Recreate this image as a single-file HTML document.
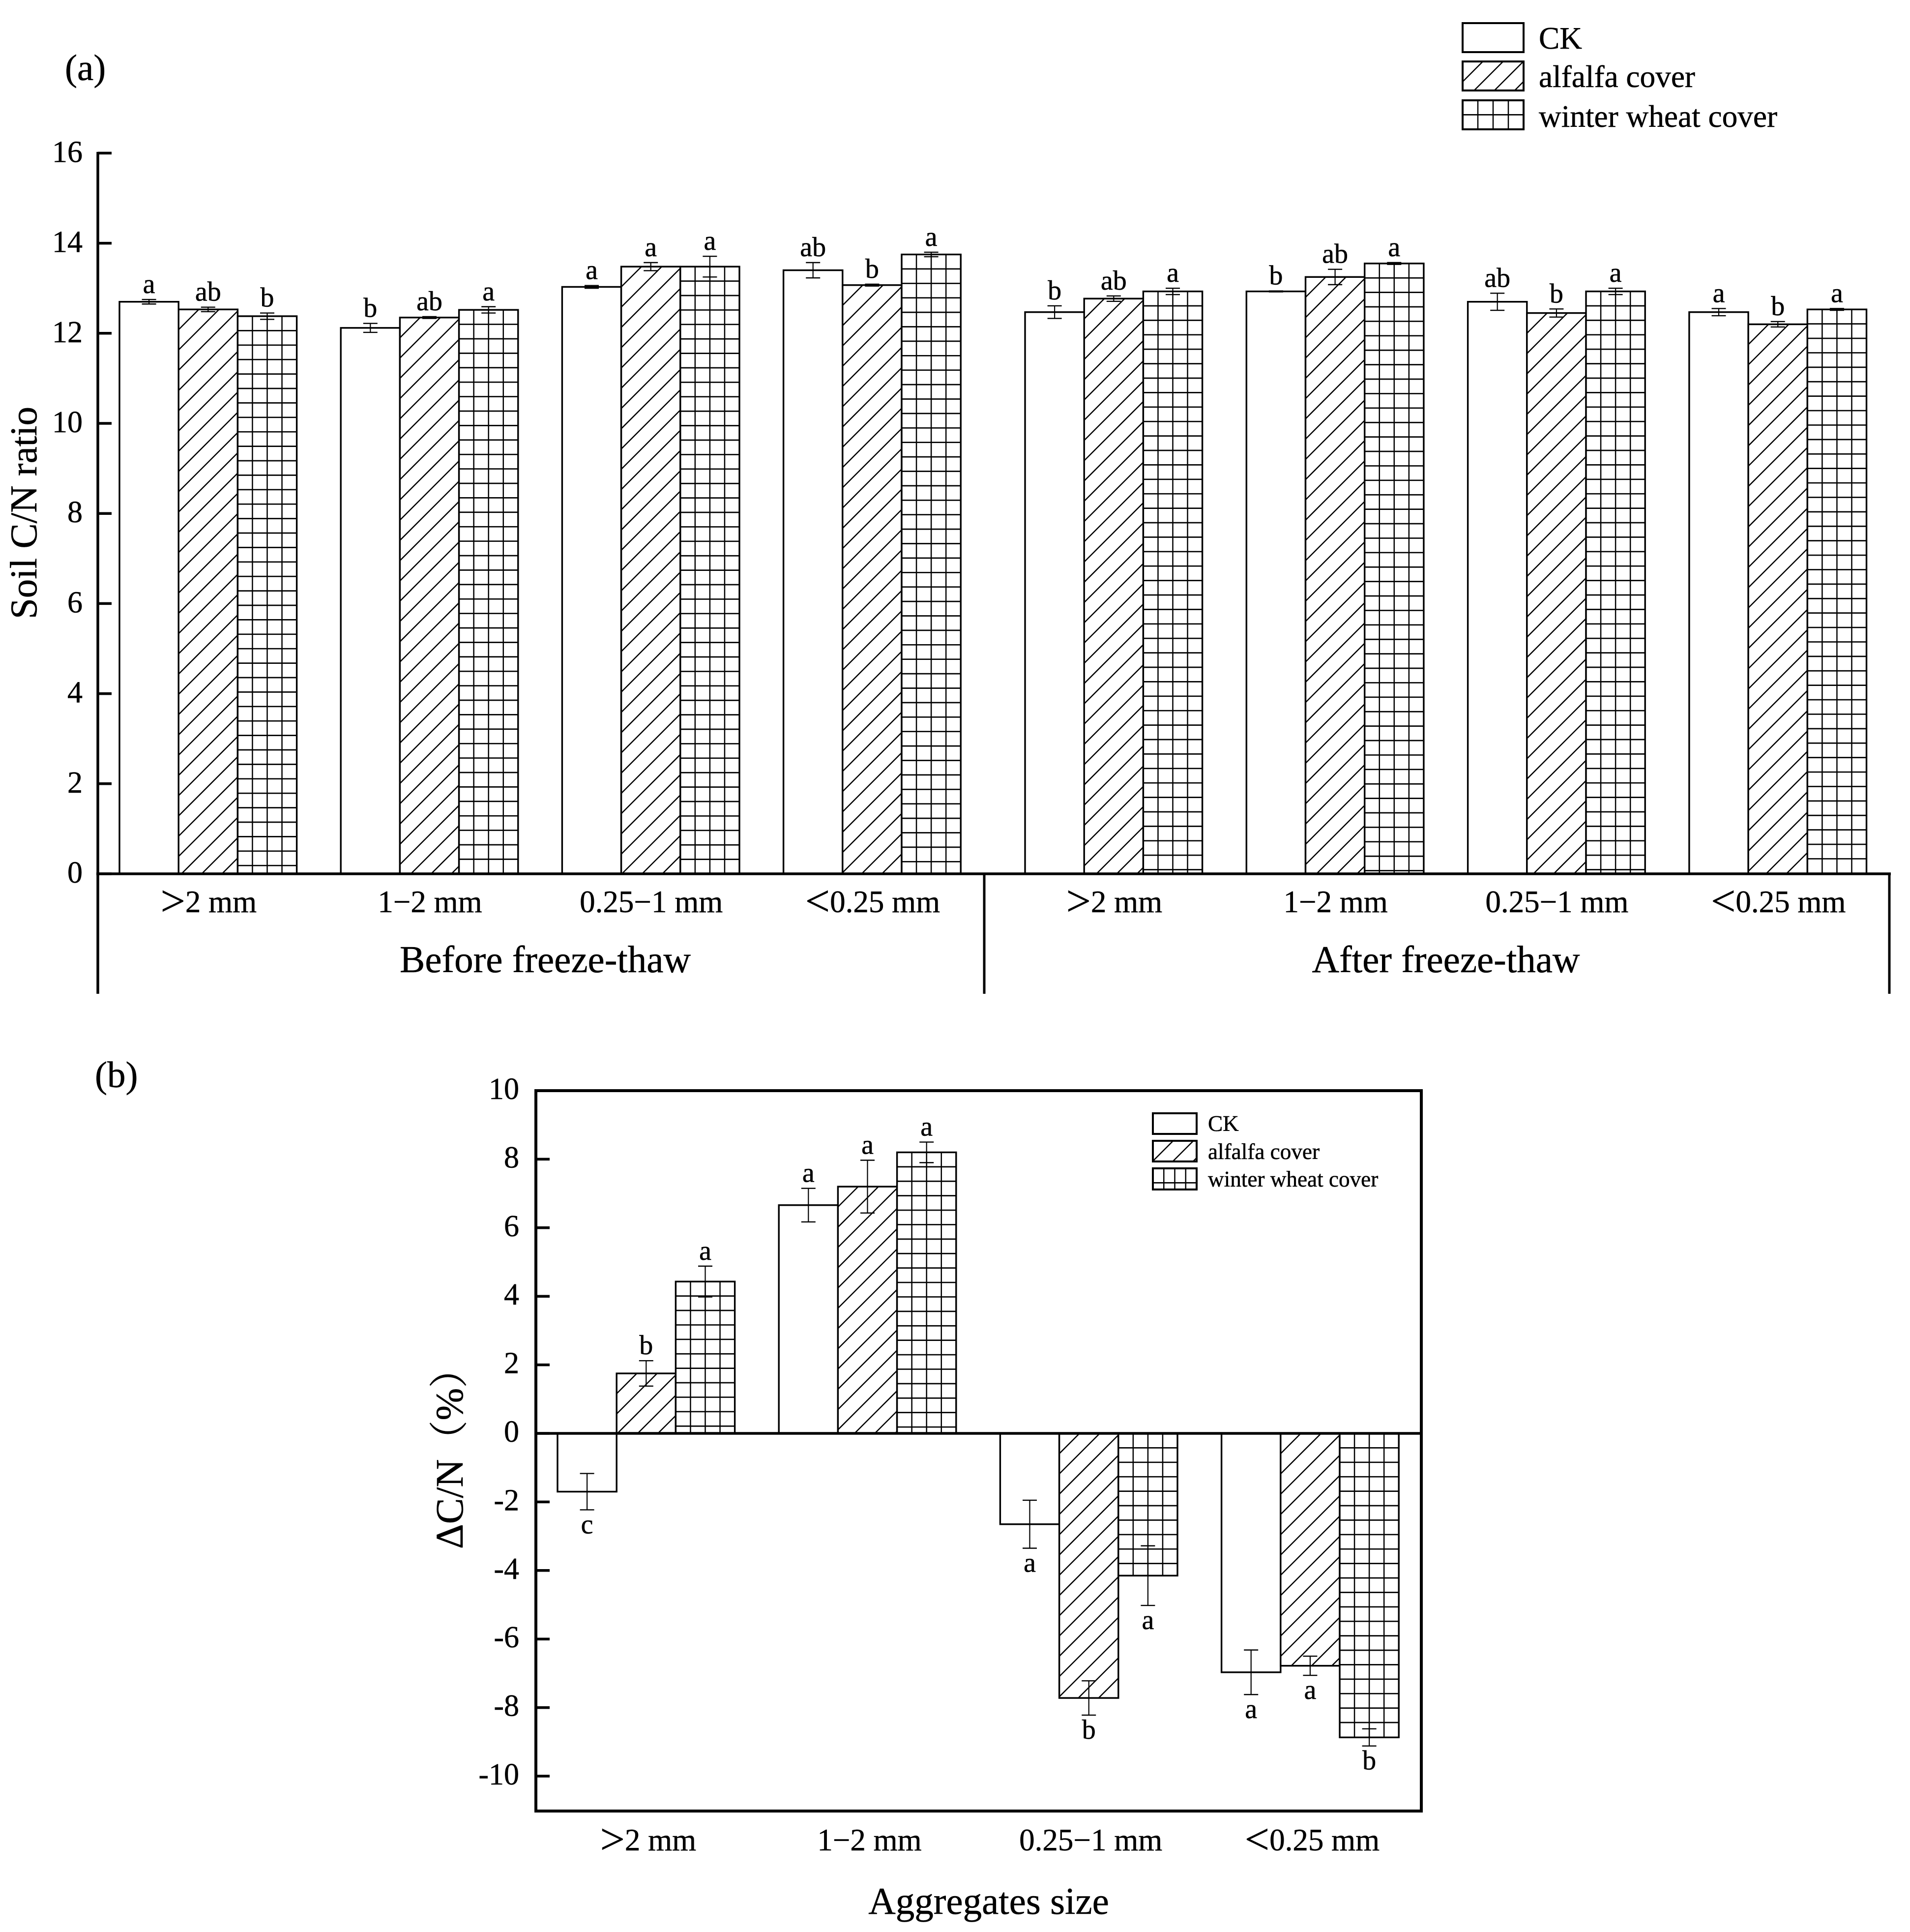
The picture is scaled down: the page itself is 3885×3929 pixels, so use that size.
<!DOCTYPE html>
<html lang="en">
<head>
<meta charset="utf-8">
<title>Soil C/N ratio and change by aggregate size</title>
<style>
html,body{margin:0;padding:0;background:#fff}
svg{display:block}
text{font-family:"Liberation Serif","Noto Serif CJK SC",serif;fill:#000;stroke:#000;stroke-width:0.5px}
</style>
</head>
<body>
<svg id="figure" xmlns="http://www.w3.org/2000/svg" width="3885" height="3929" viewBox="0 0 3885 3929">
  <rect width="3885" height="3929" fill="#fff"/>
  <g id="panelA"></g>
  <g id="panelB"></g>
</svg>
<script>
/* ---------- Panel (a) data ---------- */
const categories = ['>2 mm', '1\u22122 mm', '0.25\u22121 mm', '<0.25 mm'];
const periods = ['Before freeze-thaw', 'After freeze-thaw'];
const seriesNames = ['CK', 'alfalfa cover', 'winter wheat cover'];
const yTicksA = [0, 2, 4, 6, 8, 10, 12, 14, 16];
const ckA = [12.70, 12.12, 13.03, 13.40, 12.47, 12.93, 12.70, 12.47];
const alfalfaA = [12.53, 12.35, 13.48, 13.07, 12.77, 13.25, 12.45, 12.20];
const wheatA = [12.38, 12.52, 13.48, 13.75, 12.93, 13.55, 12.93, 12.53];
const ckErrA = [0.05, 0.10, 0.03, 0.17, 0.14, 0.01, 0.19, 0.08];
const alfalfaErrA = [0.05, 0.02, 0.09, 0.02, 0.06, 0.17, 0.09, 0.06];
const wheatErrA = [0.07, 0.07, 0.23, 0.05, 0.07, 0.02, 0.07, 0.02];
const ckLetA = ['a', 'b', 'a', 'ab', 'b', 'b', 'ab', 'a'];
const alfalfaLetA = ['ab', 'ab', 'a', 'b', 'ab', 'ab', 'b', 'b'];
const wheatLetA = ['b', 'a', 'a', 'a', 'a', 'a', 'a', 'a'];

/* ---------- Panel (b) data ---------- */
const yTicksB = [-10, -8, -6, -4, -2, 0, 2, 4, 6, 8, 10];
const ckB = [-1.70, 6.66, -2.65, -6.97];
const alfalfaB = [1.75, 7.20, -7.72, -6.78];
const wheatB = [4.43, 8.20, -4.15, -8.87];
const ckErrB = [0.53, 0.49, 0.70, 0.65];
const alfalfaErrB = [0.37, 0.77, 0.50, 0.28];
const wheatErrB = [0.45, 0.30, 0.87, 0.25];
const ckLetB = ['c', 'a', 'a', 'a'];
const alfalfaLetB = ['b', 'a', 'b', 'a'];
const wheatLetB = ['a', 'a', 'a', 'b'];

/* ---------- helpers ---------- */
const NS = 'http://www.w3.org/2000/svg';
const BAR_W = 120.2;
function mk(parent, tag, attrs) {
  const el = document.createElementNS(NS, tag);
  for (const k in attrs) el.setAttribute(k, attrs[k]);
  parent.appendChild(el);
  return el;
}
function seg(parent, x1, y1, x2, y2, w) {
  return mk(parent, 'line', { x1: x1, y1: y1, x2: x2, y2: y2, stroke: '#000', 'stroke-width': w });
}
function label(parent, x, y, str, size, anchor) {
  const el = mk(parent, 'text', { x: x, y: y, 'font-size': size, 'text-anchor': anchor || 'middle' });
  const first = str.charAt(0);
  if (first === '>' || first === '<') {
    const big = mk(el, 'tspan', { 'font-size': size * 1.42, dy: 7 });
    big.textContent = first;
    const rest = mk(el, 'tspan', { dy: -7 });
    rest.textContent = str.slice(1);
  } else {
    el.textContent = str;
  }
  return el;
}
/* fill pattern lines of a bar or swatch: kind 1 = diagonal, kind 2 = grid */
function hatch(parent, l, t, w, h, kind) {
  const r = l + w, b = t + h;
  if (kind === 1) {
    const P = 41.2;
    for (let k = 1; l + t + k * P < r + b; k++) {
      const c = l + t + k * P;
      const x1 = Math.max(l, c - b), x2 = Math.min(r, c - t);
      if (x2 > x1) {
        const ln = seg(parent, x1, c - x1, x2, c - x2, 2.5);
        
        
      }
    }
  } else if (kind === 2) {
    for (let k = 1; k < 4; k++) {
      const ln = seg(parent, l + k * w / 4, t, l + k * w / 4, b, 2.5);
      
      
    }
    for (let y = t + 29.4; y < b - 1; y += 29.4) {
      const ln = seg(parent, l, y, r, y, 2.7);
      
      
    }
  }
}
function drawBar(parent, left, yv, yz, kind) {
  const top = Math.min(yv, yz), h = Math.abs(yz - yv);
  const g = mk(parent, 'g', {});
  
  
  const rect = mk(g, 'rect', { x: left, y: top, width: BAR_W, height: h, fill: '#fff' });
  
  
  hatch(g, left, top, BAR_W, h, kind);
  const outline = mk(g, 'rect', { x: left, y: top, width: BAR_W, height: h, fill: 'none', stroke: '#000', 'stroke-width': 3.4 });
  
  
}
function drawErr(parent, cx, y1, y2) {
  const g = mk(parent, 'g', {});
  
  
  seg(g, cx, y1, cx, y2, 2.2);
  seg(g, cx - 14.5, y1, cx + 14.5, y1, 2.4);
  seg(g, cx - 14.5, y2, cx + 14.5, y2, 2.4);
}
function drawLegend(parent, boxL, boxW, tops, bots, textX, bases, size) {
  for (let i = 0; i < seriesNames.length; i++) {
    const g = mk(parent, 'g', {});
    
    
    const box = mk(g, 'rect', { x: boxL, y: tops[i], width: boxW, height: bots[i] - tops[i], fill: '#fff' });
    
    
    hatch(g, boxL, tops[i], boxW, bots[i] - tops[i], i);
    const out = mk(g, 'rect', { x: boxL, y: tops[i], width: boxW, height: bots[i] - tops[i], fill: 'none', stroke: '#000', 'stroke-width': 4 });
    
    
    const t = label(g, textX, bases[i], seriesNames[i], size, 'start');
    
    
  }
}

/* ---------- axis functions ---------- */
const yA = v => 1777 - 91.6 * v;
const xA = (g, s) => (g < 4 ? 243 + 450.2 * g : 2085 + 450.3 * (g - 4)) + s * BAR_W;
const yB = v => 2915 - 69.7 * v;
const xB = (g, s) => 1134 + 450.2 * g + s * BAR_W;

/* ---------- panel (a) ---------- */
const A = document.getElementById('panelA');
const seriesA = [ckA, alfalfaA, wheatA];
const errA = [ckErrA, alfalfaErrA, wheatErrA];
const letA = [ckLetA, alfalfaLetA, wheatLetA];

let el = label(A, 132, 163, '(a)', 75, 'start');



seriesA.forEach((vals, s) => {
  vals.forEach((v, g) => {
    drawBar(A, xA(g, s), yA(v), yA(0), s);
  });
});
seriesA.forEach((vals, s) => {
  vals.forEach((v, g) => {
    const cx = xA(g, s) + BAR_W / 2;
    const top = yA(v + errA[s][g]);
    drawErr(A, cx, top, yA(v - errA[s][g]));
    const t = label(A, cx, top - 13, letA[s][g], 56);
    
    
  });
});

el = seg(A, 199, yA(16) - 2.5, 199, 2021, 5.5);


yTicksA.forEach(v => {
  const tk = seg(A, 199, yA(v), 227, yA(v), 5.5);
  
  
  const lb = label(A, 168, yA(v) + 18, String(v), 62, 'end');
  
  
});
el = seg(A, 196, yA(0), 3846, yA(0), 5.5);


el = seg(A, 2002, yA(0), 2002, 2021, 5);


el = seg(A, 3843, yA(0), 3843, 2021, 5);



for (let g = 0; g < 8; g++) {
  const lb = label(A, xA(g, 1.5) + 1, 1855, categories[g % 4], 63);
  
  
}
el = label(A, 1109, 1977, periods[0], 77);


el = label(A, 2941, 1977, periods[1], 77);



el = label(A, 74, 1043, 'Soil C/N ratio', 77);
el.setAttribute('transform', 'rotate(-90 74 1043)');



drawLegend(A, 2975, 124, [47, 125, 204], [106, 184, 263], 3130, [99, 177, 258], 63.3);

/* ---------- panel (b) ---------- */
const B = document.getElementById('panelB');
const seriesB = [ckB, alfalfaB, wheatB];
const errB = [ckErrB, alfalfaErrB, wheatErrB];
const letB = [ckLetB, alfalfaLetB, wheatLetB];

el = label(B, 193, 2211, '(b)', 75, 'start');



seriesB.forEach((vals, s) => {
  vals.forEach((v, g) => {
    drawBar(B, xB(g, s), yB(v), yB(0), s);
  });
});
seriesB.forEach((vals, s) => {
  vals.forEach((v, g) => {
    const cx = xB(g, s) + BAR_W / 2;
    const hi = yB(v + errB[s][g]), lo = yB(v - errB[s][g]);
    drawErr(B, cx, hi, lo);
    const t = label(B, cx, v >= 0 ? hi - 13 : lo + 48, letB[s][g], 56);
    
    
  });
});

el = mk(B, 'rect', { x: 1090, y: yB(10), width: 1801, height: 1465, fill: 'none', stroke: '#000', 'stroke-width': 6 });


el = seg(B, 1090, yB(0), 2891, yB(0), 5.5);


yTicksB.forEach(v => {
  const tk = seg(B, 1090, yB(v), 1118, yB(v), 5.5);
  
  
  const lb = label(B, 1056, yB(v) + 17, String(v), 62, 'end');
  
  
});
for (let g = 0; g < 4; g++) {
  const lb = label(B, xB(g, 1.5) + 4, 3763, categories[g], 63);
  
  
}
el = label(B, 2011, 3892, 'Aggregates size', 77);


el = label(B, 941, 3150, '\u0394C/N\uFF08%\uFF09', 79, 'start');
el.setAttribute('transform', 'rotate(-90 941 3150)');



drawLegend(B, 2345, 89, [2264, 2320, 2376], [2306, 2362, 2419], 2457, [2300, 2357, 2413], 45.2);
</script>
</body>
</html>
